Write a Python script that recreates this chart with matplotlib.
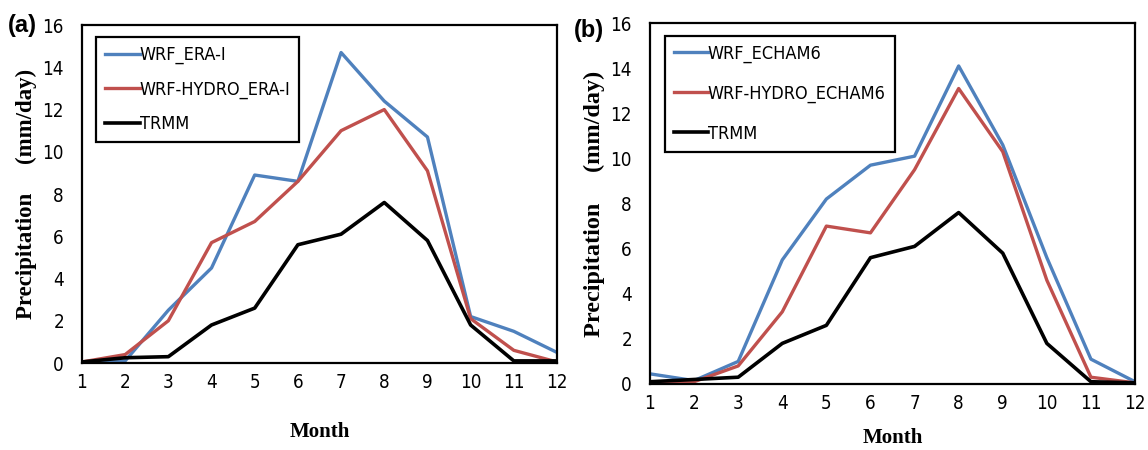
import matplotlib
matplotlib.use("Agg")
import matplotlib.pyplot as plt
from matplotlib.font_manager import FontProperties

months = list(range(1, 13))

# Panel (a)
wrf_era = [0.05, 0.1, 2.5, 4.5, 8.9, 8.6, 14.7, 12.4, 10.7, 2.2, 1.5, 0.5]
hydro_era = [0.05, 0.4, 2.0, 5.7, 6.7, 8.6, 11.0, 12.0, 9.1, 2.1, 0.6, 0.05]
trmm_a = [0.05, 0.25, 0.3, 1.8, 2.6, 5.6, 6.1, 7.6, 5.8, 1.8, 0.1, 0.1]

# Panel (b)
wrf_echam = [0.45, 0.15, 1.0, 5.5, 8.2, 9.7, 10.1, 14.1, 10.6, 5.6, 1.1, 0.1]
hydro_echam = [0.05, 0.1, 0.8, 3.2, 7.0, 6.7, 9.5, 13.1, 10.3, 4.6, 0.3, 0.05]
trmm_b = [0.1, 0.2, 0.3, 1.8, 2.6, 5.6, 6.1, 7.6, 5.8, 1.8, 0.1, 0.05]

yticks = [0, 2, 4, 6, 8, 10, 12, 14, 16]

tick_fp = FontProperties(family="DejaVu Sans", stretch="condensed", size=13.5)
leg_fp = FontProperties(family="DejaVu Sans", stretch="condensed", size=13)

BLUE = "#4f81bd"
RED = "#c0504d"
BLACK = "#000000"

fig = plt.figure(figsize=(11.48, 4.5), dpi=100)
ax_a = fig.add_axes([0.0714, 0.1933, 0.4138, 0.751])
ax_b = fig.add_axes([0.5662, 0.1467, 0.4225, 0.802])

panels = [
    (ax_a, wrf_era, hydro_era, trmm_a, ["WRF_ERA-I", "WRF-HYDRO_ERA-I", "TRMM"], "(a)",
     22, 1.0, 16.5, 0.9, 0.965),
    (ax_b, wrf_echam, hydro_echam, trmm_b, ["WRF_ECHAM6", "WRF-HYDRO_ECHAM6", "TRMM"], "(b)",
     11, 0.98, 17.5, 1.2, 0.965),
]

for ax, s1, s2, s3, labels, tag, xpad, tagy, ylfs, lspace, legy in panels:
    ax.plot(months, s1, color=BLUE, lw=2.4, label=labels[0])
    ax.plot(months, s2, color=RED, lw=2.4, label=labels[1])
    ax.plot(months, s3, color=BLACK, lw=2.6, label=labels[2])
    ax.set_xlim(1, 12)
    ax.set_ylim(0, 16)
    ax.set_xticks(months)
    ax.set_yticks(yticks)
    ax.tick_params(axis="x", length=0, pad=7)
    ax.tick_params(axis="y", length=0, pad=13)
    for lbl in ax.get_xticklabels() + ax.get_yticklabels():
        lbl.set_fontproperties(tick_fp)
    for sp in ax.spines.values():
        sp.set_linewidth(1.6)
        sp.set_color("black")
    ax.set_xlabel("Month", family="Liberation Serif", fontweight="bold", fontsize=15, labelpad=xpad)
    ax.set_ylabel("Precipitation     (mm/day)", family="Liberation Serif", fontweight="bold",
                  fontsize=ylfs, labelpad=4)
    leg = ax.legend(loc="upper left", bbox_to_anchor=(0.03, legy), prop=leg_fp,
                    frameon=True, fancybox=False, edgecolor="black", framealpha=1,
                    handlelength=1.9, handletextpad=0.0, labelspacing=lspace,
                    borderpad=0.5, borderaxespad=0)
    leg.get_frame().set_linewidth(1.6)
    ax.text(-0.095, tagy, tag, transform=ax.transAxes, fontsize=17, fontweight="bold",
            family="Liberation Sans", ha="right", va="center")

fig.savefig("out.png", dpi=100)
